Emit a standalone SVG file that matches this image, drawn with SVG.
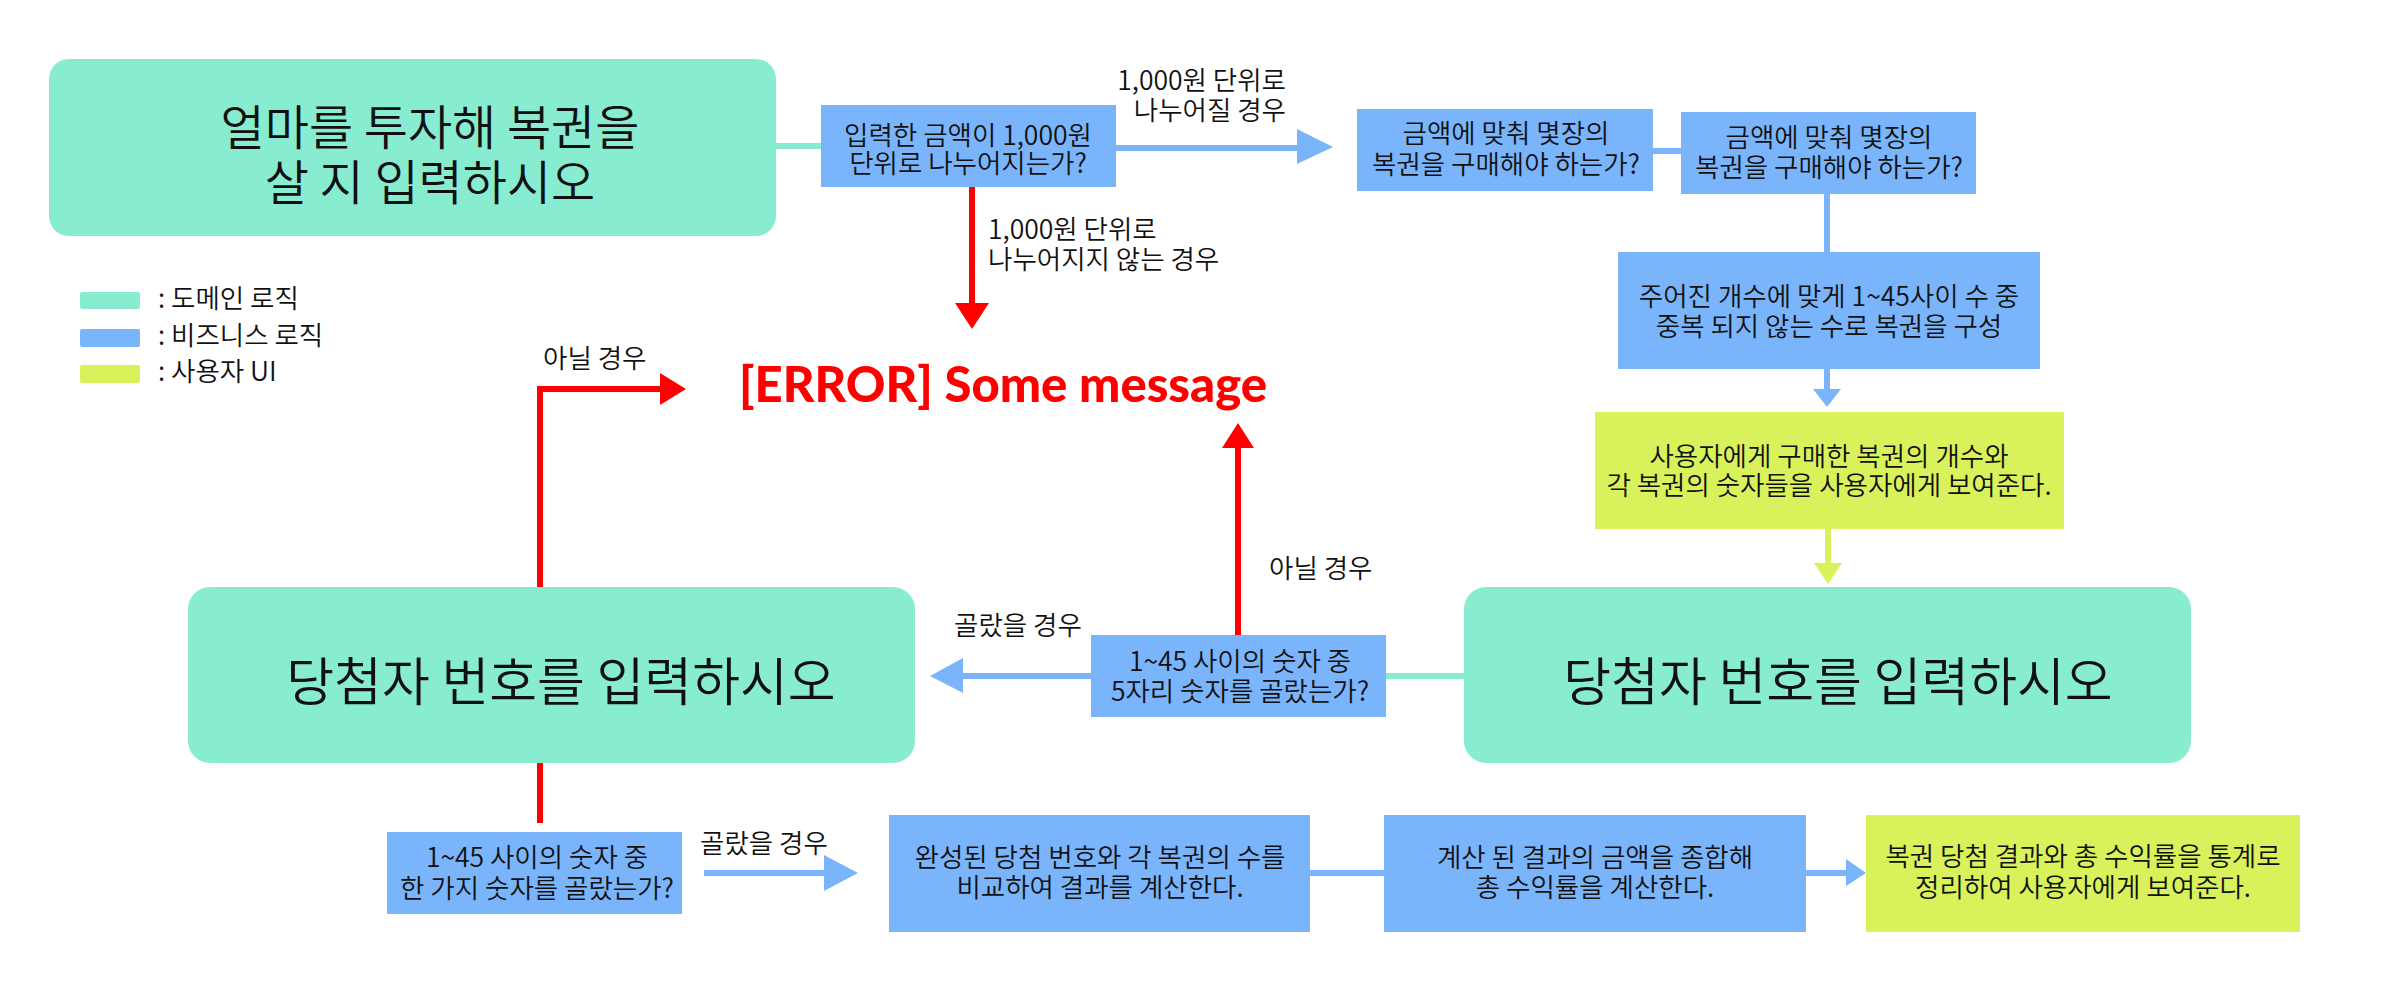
<svg xmlns="http://www.w3.org/2000/svg" width="2387" height="1008" viewBox="0 0 2387 1008">
<style>
.dom{fill:#88ECD0}
.biz{fill:#7AB4FB}
.ui{fill:#D9F25C}
.t{font-family:"Noto Sans CJK KR","Noto Sans",sans-serif;fill:#111;font-size:26.5px;font-weight:350}
.c{text-anchor:middle}
.big{font-size:52px}
.big1{font-size:48px}
.err{font-family:Lato,"Liberation Sans",sans-serif;font-weight:900;font-size:50px;fill:#FF0000}
.lb{stroke:#7AB4FB;stroke-width:6;fill:none}
.lr{stroke:#FF0000;stroke-width:6;fill:none}
.lt{stroke:#88ECD0;stroke-width:6;fill:none}
.ly{stroke:#D9F25C;stroke-width:6;fill:none}
.hb{fill:#7AB4FB}
.hr{fill:#FF0000}
.hy{fill:#D9F25C}
</style>
<rect width="2387" height="1008" fill="#FFFFFF"/>

<g id="connectors">
  <line class="lt" x1="776" y1="146" x2="822" y2="146"/>
  <line class="lb" x1="1115" y1="148" x2="1298" y2="148"/>
  <polygon class="hb" points="1297,129 1333,147 1297,164"/>
  <line class="lr" x1="972" y1="186" x2="972" y2="304"/>
  <polygon class="hr" points="955,303 989,303 972,329"/>
  <line class="lb" x1="1652" y1="151" x2="1682" y2="151"/>
  <line class="lb" x1="1827" y1="193" x2="1827" y2="253"/>
  <line class="lb" x1="1827" y1="368" x2="1827" y2="390"/>
  <polygon class="hb" points="1813,389 1841,389 1827,407"/>
  <line class="ly" x1="1828" y1="528" x2="1828" y2="564"/>
  <polygon class="hy" points="1814,563 1842,563 1828,584"/>
  <line class="lt" x1="1385" y1="676" x2="1465" y2="676"/>
  <line class="lb" x1="1091" y1="676" x2="962" y2="676"/>
  <polygon class="hb" points="963,658 930,676 963,693"/>
  <line class="lr" x1="1238" y1="636" x2="1238" y2="447"/>
  <polygon class="hr" points="1222,448 1254,448 1238,423"/>
  <polyline class="lr" points="540,588 540,389 661,389"/>
  <polygon class="hr" points="660,373 686,389 660,405"/>
  <line class="lr" x1="540" y1="762" x2="540" y2="823"/>
  <line class="lb" x1="704" y1="873" x2="825" y2="873"/>
  <polygon class="hb" points="824,855 858,873 824,891"/>
  <line class="lb" x1="1309" y1="873" x2="1385" y2="873"/>
  <line class="lb" x1="1805" y1="873" x2="1847" y2="873"/>
  <polygon class="hb" points="1846,859 1866,873 1846,886"/>
</g>

<g id="labels">
  <text class="t" x="1286" y="90" text-anchor="end">1,000원 단위로</text>
  <text class="t" x="1286" y="120" text-anchor="end">나누어질 경우</text>
  <text class="t" x="988" y="239">1,000원 단위로</text>
  <text class="t" x="988" y="269">나누어지지 않는 경우</text>
  <text class="t" x="543" y="368">아닐 경우</text>
  <text class="t" x="1269" y="578">아닐 경우</text>
  <text class="t" x="954" y="635">골랐을 경우</text>
  <text class="t" x="700" y="853">골랐을 경우</text>
</g>

<g id="legend">
  <rect class="dom" x="80" y="292" width="60" height="17" rx="2"/>
  <rect class="biz" x="80" y="329" width="60" height="18" rx="2"/>
  <rect class="ui" x="80" y="365" width="60" height="18" rx="2"/>
  <text class="t" x="158" y="308">: 도메인 로직</text>
  <text class="t" x="158" y="345">: 비즈니스 로직</text>
  <text class="t" x="158" y="381">: 사용자 UI</text>
</g>

<g id="node-input-amount">
  <rect class="dom" x="49" y="59" width="727" height="177" rx="20"/>
  <text class="t c big1" x="430" y="145">얼마를 투자해 복권을</text>
  <text class="t c big1" x="430" y="200">살 지 입력하시오</text>
</g>

<g id="node-check-unit">
  <rect class="biz" x="821" y="105" width="295" height="82"/>
  <text class="t c" x="968" y="145">입력한 금액이 1,000원</text>
  <text class="t c" x="968" y="173">단위로 나누어지는가?</text>
</g>

<g id="node-count-a">
  <rect class="biz" x="1357" y="109" width="296" height="82"/>
  <text class="t c" x="1506" y="143">금액에 맞춰 몇장의</text>
  <text class="t c" x="1506" y="174">복권을 구매해야 하는가?</text>
</g>

<g id="node-count-b">
  <rect class="biz" x="1681" y="112" width="295" height="82"/>
  <text class="t c" x="1829" y="147">금액에 맞춰 몇장의</text>
  <text class="t c" x="1829" y="177">복권을 구매해야 하는가?</text>
</g>

<g id="node-generate">
  <rect class="biz" x="1618" y="252" width="422" height="117"/>
  <text class="t c" x="1829" y="306">주어진 개수에 맞게 1~45사이 수 중</text>
  <text class="t c" x="1829" y="336">중복 되지 않는 수로 복권을 구성</text>
</g>

<g id="node-show-tickets">
  <rect class="ui" x="1595" y="412" width="469" height="117"/>
  <text class="t c" x="1829" y="466">사용자에게 구매한 복권의 개수와</text>
  <text class="t c" x="1829" y="495">각 복권의 숫자들을 사용자에게 보여준다.</text>
</g>

<g id="node-winning-right">
  <rect class="dom" x="1464" y="587" width="727" height="176" rx="22"/>
  <text class="t c big" x="1838" y="701">당첨자 번호를 입력하시오</text>
</g>

<g id="node-check-five">
  <rect class="biz" x="1091" y="635" width="295" height="82"/>
  <text class="t c" x="1240" y="671">1~45 사이의 숫자 중</text>
  <text class="t c" x="1240" y="701">5자리 숫자를 골랐는가?</text>
</g>

<g id="node-winning-left">
  <rect class="dom" x="188" y="587" width="727" height="176" rx="22"/>
  <text class="t c big" x="561" y="701">당첨자 번호를 입력하시오</text>
</g>

<g id="node-error">
  <text class="err" x="739" y="402" textLength="528" lengthAdjust="spacingAndGlyphs">[ERROR] Some message</text>
</g>

<g id="node-check-one">
  <rect class="biz" x="387" y="832" width="295" height="82"/>
  <text class="t c" x="537" y="867">1~45 사이의 숫자 중</text>
  <text class="t c" x="537" y="898">한 가지 숫자를 골랐는가?</text>
</g>

<g id="node-compare">
  <rect class="biz" x="889" y="815" width="421" height="117"/>
  <text class="t c" x="1100" y="867">완성된 당첨 번호와 각 복권의 수를</text>
  <text class="t c" x="1100" y="897">비교하여 결과를 계산한다.</text>
</g>

<g id="node-sum">
  <rect class="biz" x="1384" y="815" width="422" height="117"/>
  <text class="t c" x="1595" y="867">계산 된 결과의 금액을 종합해</text>
  <text class="t c" x="1595" y="897">총 수익률을 계산한다.</text>
</g>

<g id="node-show-result">
  <rect class="ui" x="1866" y="815" width="434" height="117"/>
  <text class="t c" x="2083" y="866">복권 당첨 결과와 총 수익률을 통계로</text>
  <text class="t c" x="2083" y="897">정리하여 사용자에게 보여준다.</text>
</g>
</svg>
